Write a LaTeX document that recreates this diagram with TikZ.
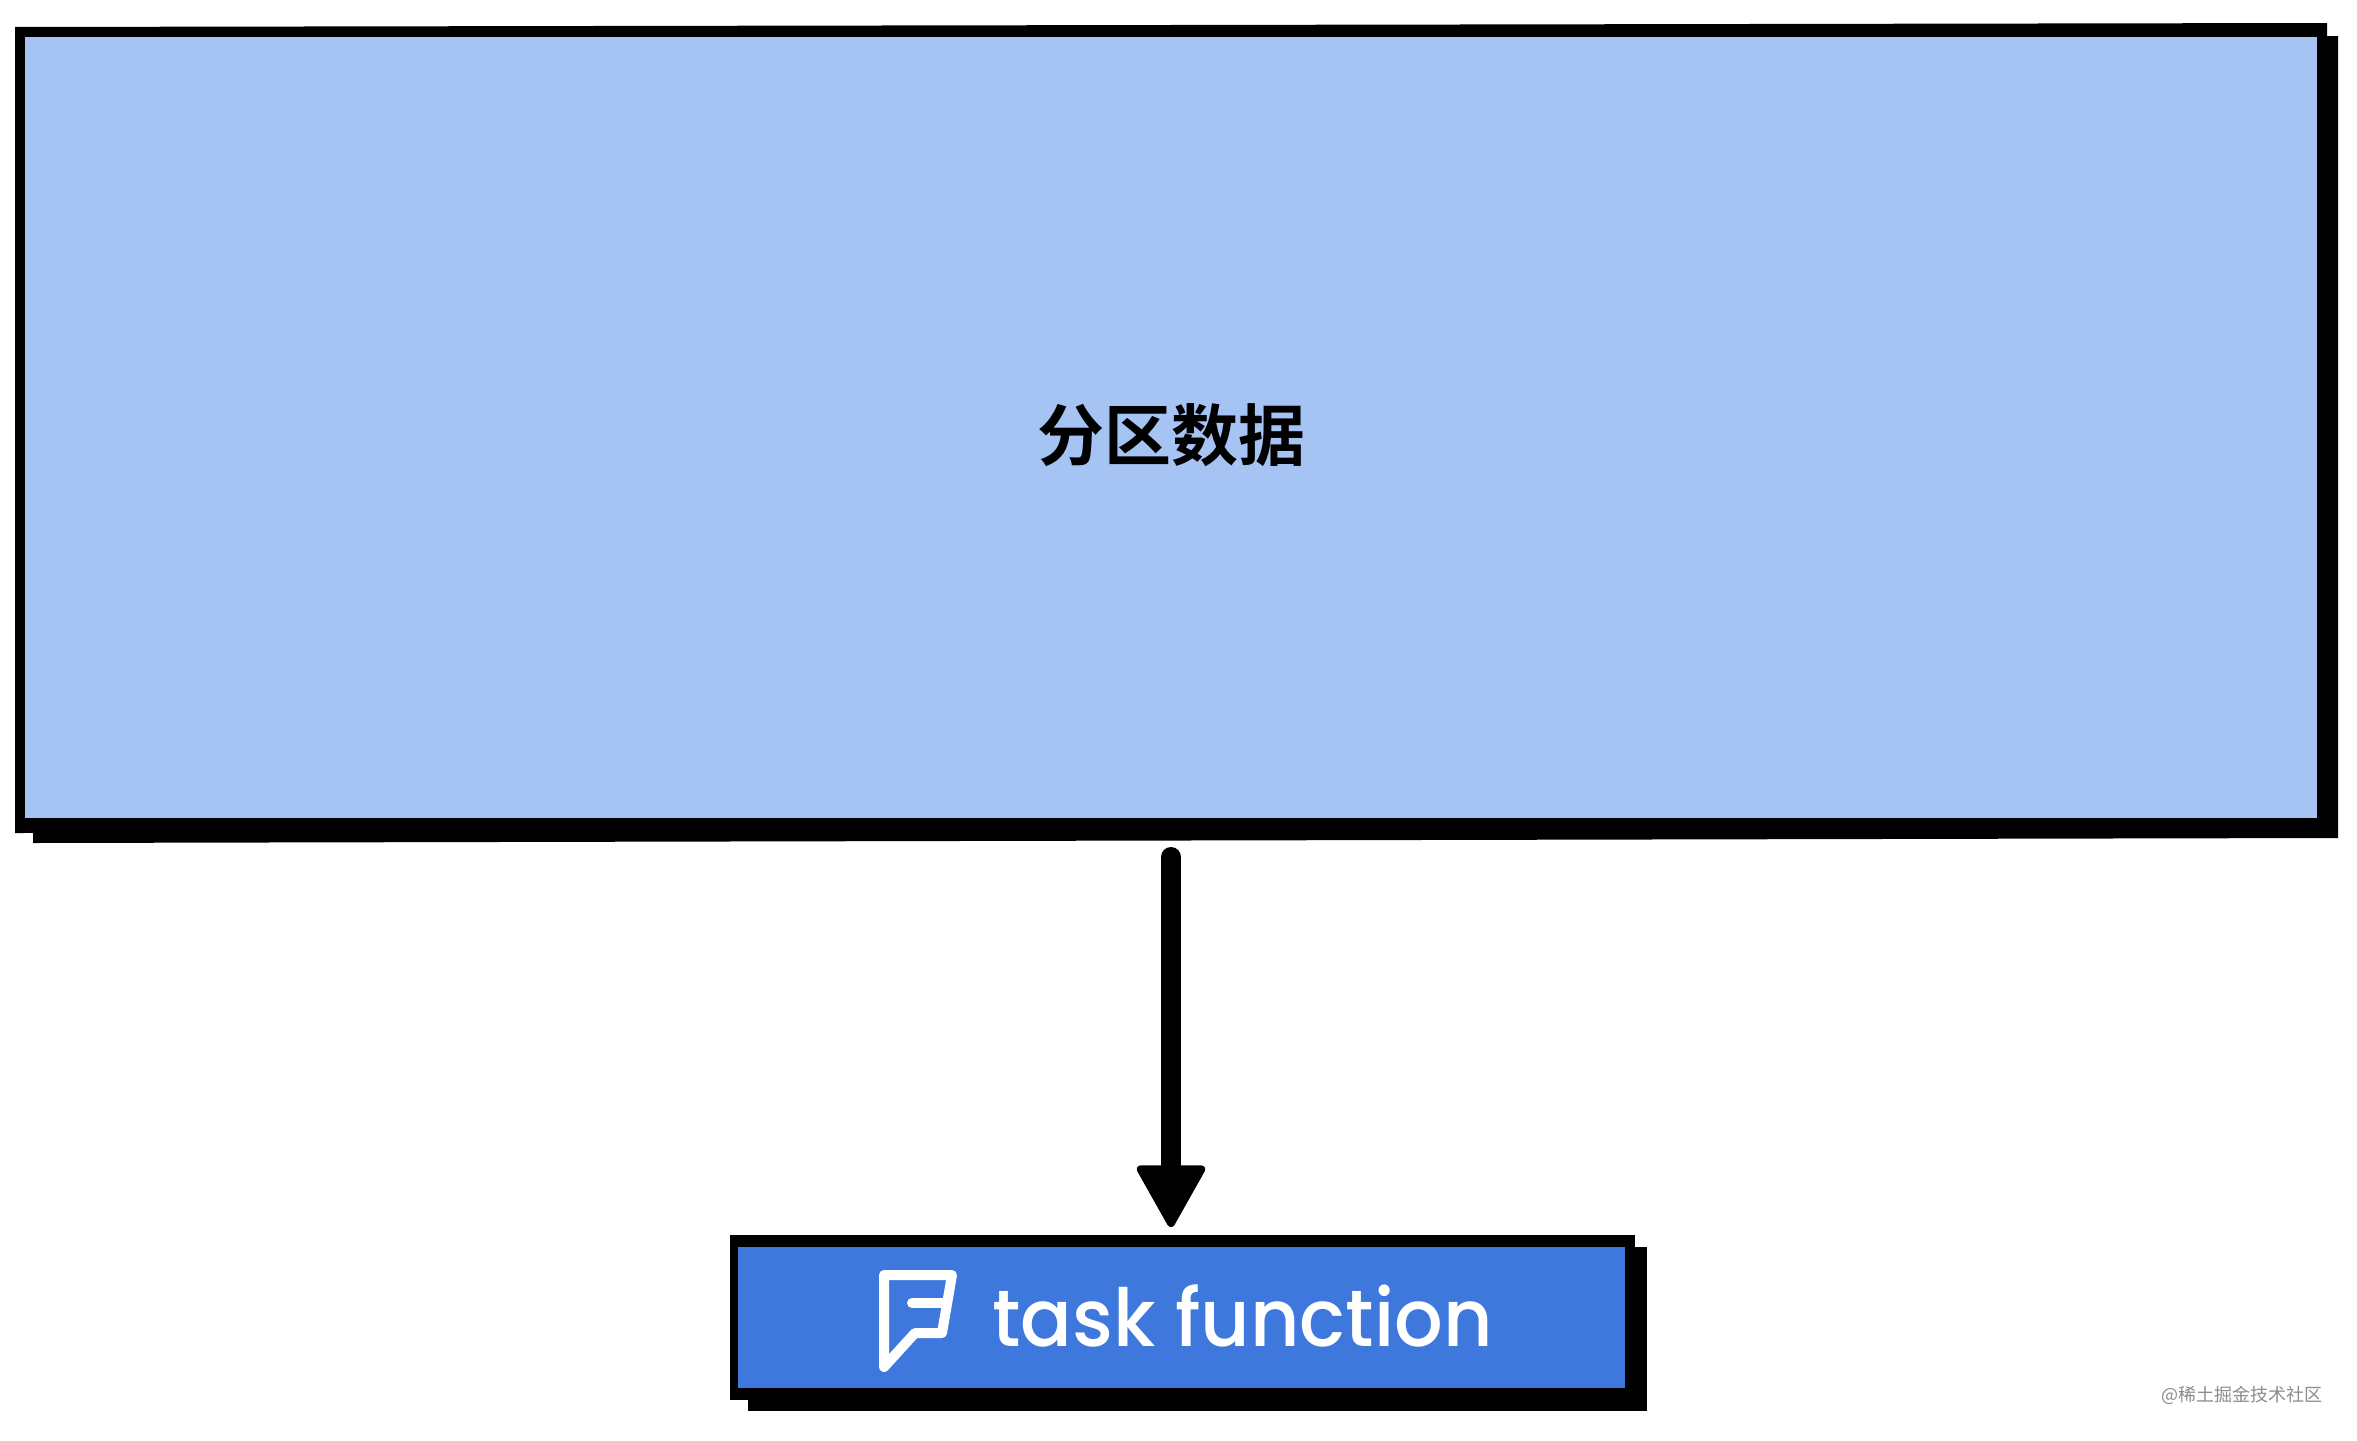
\documentclass[tikz,border=0pt]{standalone}
\usepackage{fontspec}
\usetikzlibrary{arrows.meta}
\newfontfamily\cjkfont[BoldFont={Noto Sans CJK SC Bold}]{Noto Sans CJK SC}
\newfontfamily\labelfont{Poppins Medium}
\definecolor{partblue}{HTML}{A6C4F3}
\definecolor{taskblue}{HTML}{3F78DD}
\tikzset{
  ink/.style={fill=black,draw=none},
  panel/.style={rectangle,draw=none,inner sep=0pt,outer sep=0pt},
  flow/.style={line width=20pt,line cap=round,-{Triangle[length=66pt,width=72pt,line width=8pt,round]}},
  icon/.style={draw=white,line width=10pt,line join=round,line cap=round}
}
\begin{document}
\begin{tikzpicture}[x=1pt,y=-1pt]
\useasboundingbox (0,0) rectangle (2357,1440);
\fill[white] (0,0) rectangle (2357,1440);
% large box: offset shadow and outline
\fill[ink] (33,37) -- (2338,36) -- (2338,838) -- (33,843) -- cycle;
\fill[ink] (15,27) -- (2327,23) -- (2327,830) -- (15,833) -- cycle;
\node[panel,fill=partblue,minimum width=2292pt,minimum height=781pt] (part) at (1171,427.5) {};
\node[inner sep=0pt] (partlabel) at (1171,435) {\cjkfont\bfseries\fontsize{67}{70}\selectfont 分区数据};
% small box: offset shadow and outline
\fill[ink] (748,1247) -- (1647,1247) -- (1647,1411) -- (748,1411) -- cycle;
\fill[ink] (730,1235) -- (1635,1235) -- (1635,1400) -- (730,1400) -- cycle;
\node[panel,fill=taskblue,minimum width=887pt,minimum height=141pt] (task) at (1181.5,1317.5) {};
% icon
\draw[icon] (884,1275) -- (952,1275) -- (942,1333) -- (915,1333) -- (884,1367) -- cycle;
\draw[icon] (912,1303) -- (946,1303);
\node[inner sep=0pt,anchor=base west,text=white,xscale=0.955] (tasklabel) at (992,1346) {\labelfont\fontsize{80}{90}\selectfont task function};
% arrow
\coordinate (flowstart) at ([yshift=-39pt]part.south);
\coordinate (flowend) at (flowstart |- task.north);
\draw[flow] (flowstart) -- ([yshift=20pt]flowend);
% watermark
\node[inner sep=0pt,text=black!45] (mark) at (2241.5,1395) {\cjkfont\fontsize{18}{20}\selectfont @稀土掘金技术社区};
\end{tikzpicture}
\end{document}
